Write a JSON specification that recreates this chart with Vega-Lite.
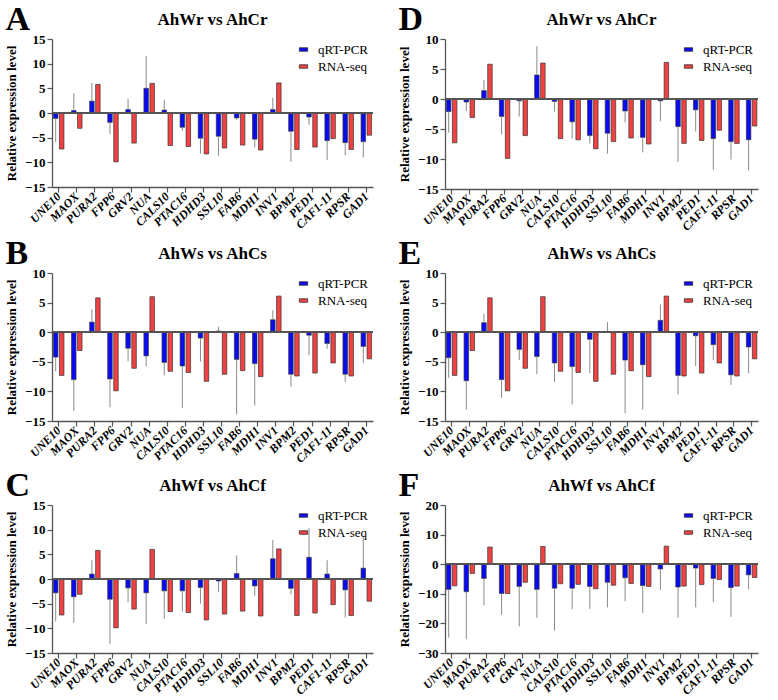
{
  "$schema": "https://vega.github.io/schema/vega-lite/v6.json",
  "padding": {"left": 5, "top": 3, "right": 2, "bottom": 0},
  "background": "white",
  "config": {
    "view": {"stroke": null},
    "font": "Liberation Serif",
    "title": {"font": "Liberation Serif", "fontSize": 17, "fontWeight": "bold", "color": "#000", "offset": 4},
    "axis": {"labelFont": "Liberation Serif", "labelFontWeight": "bold", "labelFontSize": 13, "labelColor": "#000", "titleFont": "Liberation Serif", "titleFontWeight": "bold", "titleFontSize": 13, "titleColor": "#000", "domainColor": "#555", "tickColor": "#555", "grid": false, "domainWidth": 1.3, "tickWidth": 1.2, "tickSize": 5, "labelOverlap": false},
    "legend": {"orient": "top-right", "title": null, "labelFont": "Liberation Serif", "labelFontSize": 13, "labelColor": "#000", "symbolType": "M-1,-0.42H1V0.42H-1Z", "symbolSize": 70, "symbolStrokeColor": "#333", "symbolStrokeWidth": 0.8, "rowPadding": 3, "offset": 4, "labelOffset": 8},
    "concat": {"spacing": 0}
  },
  "datasets": {
    "d": [
      {"p":"A","g":"UNE10","qRT-PCR":-1.1,"RNA-seq":-7.3,"err":-5.9},
      {"p":"A","g":"MAOX","qRT-PCR":0.5,"RNA-seq":-3.1,"err":4.0},
      {"p":"A","g":"PURA2","qRT-PCR":2.4,"RNA-seq":5.8,"err":6.1},
      {"p":"A","g":"FPP6","qRT-PCR":-1.9,"RNA-seq":-9.9,"err":-4.3},
      {"p":"A","g":"GRV2","qRT-PCR":0.7,"RNA-seq":-6.1,"err":2.9},
      {"p":"A","g":"NUA","qRT-PCR":5.0,"RNA-seq":6.0,"err":11.6},
      {"p":"A","g":"CALS10","qRT-PCR":0.6,"RNA-seq":-6.6,"err":2.7},
      {"p":"A","g":"PTAC16","qRT-PCR":-2.9,"RNA-seq":-6.8,"err":-3.6},
      {"p":"A","g":"HDHD3","qRT-PCR":-5.1,"RNA-seq":-8.3,"err":-8.2},
      {"p":"A","g":"SSL10","qRT-PCR":-4.7,"RNA-seq":-7.1,"err":-8.7},
      {"p":"A","g":"FAB6","qRT-PCR":-1.0,"RNA-seq":-6.5,"err":-1.4},
      {"p":"A","g":"MDH1","qRT-PCR":-5.3,"RNA-seq":-7.5,"err":-7.0},
      {"p":"A","g":"INV1","qRT-PCR":0.7,"RNA-seq":6.1,"err":3.1},
      {"p":"A","g":"BPM2","qRT-PCR":-3.7,"RNA-seq":-7.4,"err":-9.9},
      {"p":"A","g":"PED1","qRT-PCR":-0.8,"RNA-seq":-6.9,"err":-2.4},
      {"p":"A","g":"CAF1-11","qRT-PCR":-5.6,"RNA-seq":-5.2,"err":-9.5},
      {"p":"A","g":"RPSR","qRT-PCR":-6.0,"RNA-seq":-7.4,"err":-8.6},
      {"p":"A","g":"GAD1","qRT-PCR":-5.8,"RNA-seq":-4.5,"err":-9.0},

      {"p":"B","g":"UNE10","qRT-PCR":-4.2,"RNA-seq":-7.3,"err":-6.6},
      {"p":"B","g":"MAOX","qRT-PCR":-8.0,"RNA-seq":-3.1,"err":-13.3},
      {"p":"B","g":"PURA2","qRT-PCR":1.7,"RNA-seq":5.8,"err":3.9},
      {"p":"B","g":"FPP6","qRT-PCR":-7.9,"RNA-seq":-9.9,"err":-12.7},
      {"p":"B","g":"GRV2","qRT-PCR":-2.7,"RNA-seq":-6.1,"err":-4.9},
      {"p":"B","g":"NUA","qRT-PCR":-4.0,"RNA-seq":6.0,"err":-5.8},
      {"p":"B","g":"CALS10","qRT-PCR":-5.1,"RNA-seq":-6.6,"err":-7.3},
      {"p":"B","g":"PTAC16","qRT-PCR":-5.7,"RNA-seq":-6.8,"err":-12.8},
      {"p":"B","g":"HDHD3","qRT-PCR":-1.0,"RNA-seq":-8.3,"err":-5.0},
      {"p":"B","g":"SSL10","qRT-PCR":0.2,"RNA-seq":-7.1,"err":0.9},
      {"p":"B","g":"FAB6","qRT-PCR":-4.6,"RNA-seq":-6.5,"err":-13.9},
      {"p":"B","g":"MDH1","qRT-PCR":-5.3,"RNA-seq":-7.5,"err":-12.4},
      {"p":"B","g":"INV1","qRT-PCR":2.1,"RNA-seq":6.1,"err":3.7},
      {"p":"B","g":"BPM2","qRT-PCR":-7.1,"RNA-seq":-7.4,"err":-9.2},
      {"p":"B","g":"PED1","qRT-PCR":-0.5,"RNA-seq":-6.9,"err":-3.9},
      {"p":"B","g":"CAF1-11","qRT-PCR":-1.9,"RNA-seq":-5.2,"err":-2.8},
      {"p":"B","g":"RPSR","qRT-PCR":-7.1,"RNA-seq":-7.4,"err":-8.4},
      {"p":"B","g":"GAD1","qRT-PCR":-2.4,"RNA-seq":-4.5,"err":-5.2},

      {"p":"C","g":"UNE10","qRT-PCR":-2.8,"RNA-seq":-7.3,"err":-8.6},
      {"p":"C","g":"MAOX","qRT-PCR":-3.6,"RNA-seq":-3.1,"err":-8.9},
      {"p":"C","g":"PURA2","qRT-PCR":1.0,"RNA-seq":5.8,"err":3.8},
      {"p":"C","g":"FPP6","qRT-PCR":-4.1,"RNA-seq":-9.9,"err":-13.2},
      {"p":"C","g":"GRV2","qRT-PCR":-1.8,"RNA-seq":-6.1,"err":-4.7},
      {"p":"C","g":"NUA","qRT-PCR":-2.8,"RNA-seq":6.0,"err":-9.1},
      {"p":"C","g":"CALS10","qRT-PCR":-2.4,"RNA-seq":-6.6,"err":-8.1},
      {"p":"C","g":"PTAC16","qRT-PCR":-2.4,"RNA-seq":-6.8,"err":-6.6},
      {"p":"C","g":"HDHD3","qRT-PCR":-1.7,"RNA-seq":-8.3,"err":-5.0},
      {"p":"C","g":"SSL10","qRT-PCR":-0.4,"RNA-seq":-7.1,"err":-2.6},
      {"p":"C","g":"FAB6","qRT-PCR":1.1,"RNA-seq":-6.5,"err":4.8},
      {"p":"C","g":"MDH1","qRT-PCR":-1.4,"RNA-seq":-7.5,"err":-3.4},
      {"p":"C","g":"INV1","qRT-PCR":4.1,"RNA-seq":6.1,"err":7.9},
      {"p":"C","g":"BPM2","qRT-PCR":-1.9,"RNA-seq":-7.4,"err":-3.1},
      {"p":"C","g":"PED1","qRT-PCR":4.4,"RNA-seq":-6.9,"err":10.3},
      {"p":"C","g":"CAF1-11","qRT-PCR":1.0,"RNA-seq":-5.2,"err":3.8},
      {"p":"C","g":"RPSR","qRT-PCR":-2.2,"RNA-seq":-7.4,"err":-7.8},
      {"p":"C","g":"GAD1","qRT-PCR":2.2,"RNA-seq":-4.5,"err":8.5},

      {"p":"D","g":"UNE10","qRT-PCR":-2.1,"RNA-seq":-7.3,"err":-5.6},
      {"p":"D","g":"MAOX","qRT-PCR":-0.5,"RNA-seq":-3.1,"err":-2.0},
      {"p":"D","g":"PURA2","qRT-PCR":1.4,"RNA-seq":5.8,"err":3.2},
      {"p":"D","g":"FPP6","qRT-PCR":-2.9,"RNA-seq":-9.9,"err":-5.9},
      {"p":"D","g":"GRV2","qRT-PCR":-0.3,"RNA-seq":-6.1,"err":-2.9},
      {"p":"D","g":"NUA","qRT-PCR":4.0,"RNA-seq":6.0,"err":8.8},
      {"p":"D","g":"CALS10","qRT-PCR":-0.4,"RNA-seq":-6.6,"err":-2.1},
      {"p":"D","g":"PTAC16","qRT-PCR":-3.8,"RNA-seq":-6.8,"err":-6.6},
      {"p":"D","g":"HDHD3","qRT-PCR":-6.1,"RNA-seq":-8.3,"err":-7.4},
      {"p":"D","g":"SSL10","qRT-PCR":-5.7,"RNA-seq":-7.1,"err":-9.1},
      {"p":"D","g":"FAB6","qRT-PCR":-2.0,"RNA-seq":-6.5,"err":-3.9},
      {"p":"D","g":"MDH1","qRT-PCR":-6.4,"RNA-seq":-7.5,"err":-8.9},
      {"p":"D","g":"INV1","qRT-PCR":-0.3,"RNA-seq":6.1,"err":-3.7},
      {"p":"D","g":"BPM2","qRT-PCR":-4.6,"RNA-seq":-7.4,"err":-10.5},
      {"p":"D","g":"PED1","qRT-PCR":-1.8,"RNA-seq":-6.9,"err":-5.4},
      {"p":"D","g":"CAF1-11","qRT-PCR":-6.6,"RNA-seq":-5.2,"err":-11.8},
      {"p":"D","g":"RPSR","qRT-PCR":-7.1,"RNA-seq":-7.4,"err":-10.1},
      {"p":"D","g":"GAD1","qRT-PCR":-6.8,"RNA-seq":-4.5,"err":-11.9},

      {"p":"E","g":"UNE10","qRT-PCR":-4.3,"RNA-seq":-7.3,"err":-7.7},
      {"p":"E","g":"MAOX","qRT-PCR":-8.2,"RNA-seq":-3.1,"err":-13.1},
      {"p":"E","g":"PURA2","qRT-PCR":1.6,"RNA-seq":5.8,"err":3.1},
      {"p":"E","g":"FPP6","qRT-PCR":-8.0,"RNA-seq":-9.9,"err":-11.1},
      {"p":"E","g":"GRV2","qRT-PCR":-2.9,"RNA-seq":-6.1,"err":-4.7},
      {"p":"E","g":"NUA","qRT-PCR":-4.1,"RNA-seq":6.0,"err":-7.1},
      {"p":"E","g":"CALS10","qRT-PCR":-5.2,"RNA-seq":-6.6,"err":-8.4},
      {"p":"E","g":"PTAC16","qRT-PCR":-5.8,"RNA-seq":-6.8,"err":-12.2},
      {"p":"E","g":"HDHD3","qRT-PCR":-1.2,"RNA-seq":-8.3,"err":-6.9},
      {"p":"E","g":"SSL10","qRT-PCR":0.0,"RNA-seq":-7.1,"err":1.7},
      {"p":"E","g":"FAB6","qRT-PCR":-4.7,"RNA-seq":-6.5,"err":-13.7},
      {"p":"E","g":"MDH1","qRT-PCR":-5.5,"RNA-seq":-7.5,"err":-13.1},
      {"p":"E","g":"INV1","qRT-PCR":2.0,"RNA-seq":6.1,"err":4.7},
      {"p":"E","g":"BPM2","qRT-PCR":-7.3,"RNA-seq":-7.4,"err":-10.5},
      {"p":"E","g":"PED1","qRT-PCR":-0.6,"RNA-seq":-6.9,"err":-5.7},
      {"p":"E","g":"CAF1-11","qRT-PCR":-2.1,"RNA-seq":-5.2,"err":-4.7},
      {"p":"E","g":"RPSR","qRT-PCR":-7.2,"RNA-seq":-7.4,"err":-8.9},
      {"p":"E","g":"GAD1","qRT-PCR":-2.5,"RNA-seq":-4.5,"err":-6.9},

      {"p":"F","g":"UNE10","qRT-PCR":-8.5,"RNA-seq":-7.3,"err":-24.8},
      {"p":"F","g":"MAOX","qRT-PCR":-9.3,"RNA-seq":-3.1,"err":-25.4},
      {"p":"F","g":"PURA2","qRT-PCR":-4.8,"RNA-seq":5.8,"err":-13.9},
      {"p":"F","g":"FPP6","qRT-PCR":-9.9,"RNA-seq":-9.9,"err":-17.1},
      {"p":"F","g":"GRV2","qRT-PCR":-7.5,"RNA-seq":-6.1,"err":-21.0},
      {"p":"F","g":"NUA","qRT-PCR":-8.5,"RNA-seq":6.0,"err":-18.1},
      {"p":"F","g":"CALS10","qRT-PCR":-8.1,"RNA-seq":-6.6,"err":-22.4},
      {"p":"F","g":"PTAC16","qRT-PCR":-8.1,"RNA-seq":-6.8,"err":-15.2},
      {"p":"F","g":"HDHD3","qRT-PCR":-7.5,"RNA-seq":-8.3,"err":-15.1},
      {"p":"F","g":"SSL10","qRT-PCR":-6.1,"RNA-seq":-7.1,"err":-14.6},
      {"p":"F","g":"FAB6","qRT-PCR":-4.6,"RNA-seq":-6.5,"err":-12.5},
      {"p":"F","g":"MDH1","qRT-PCR":-7.2,"RNA-seq":-7.5,"err":-16.4},
      {"p":"F","g":"INV1","qRT-PCR":-1.6,"RNA-seq":6.1,"err":-8.7},
      {"p":"F","g":"BPM2","qRT-PCR":-7.7,"RNA-seq":-7.4,"err":-18.0},
      {"p":"F","g":"PED1","qRT-PCR":-1.3,"RNA-seq":-6.9,"err":-14.6},
      {"p":"F","g":"CAF1-11","qRT-PCR":-4.8,"RNA-seq":-5.2,"err":-12.8},
      {"p":"F","g":"RPSR","qRT-PCR":-7.9,"RNA-seq":-7.4,"err":-17.8},
      {"p":"F","g":"GAD1","qRT-PCR":-3.6,"RNA-seq":-4.5,"err":-8.5}
    ]
  },
  "resolve": {"scale": {"color": "independent"}, "legend": {"color": "independent"}},
  "spacing": 4,
  "vconcat": [
    {
      "resolve": {"scale": {"color": "independent"}, "legend": {"color": "independent"}},
      "spacing": 24,
      "hconcat": [
        {
          "title": {"text": "A", "anchor": "start", "fontSize": 34, "offset": -26},
          "resolve": {"scale": {"color": "independent"}, "legend": {"color": "independent"}},
          "vconcat": [{
            "title": "AhWr vs AhCr",
            "width": 321, "height": 148,
            "data": {"name": "d"},
            "transform": [{"filter": "datum.p == 'A'"}, {"fold": ["qRT-PCR", "RNA-seq"], "as": ["method", "value"]}],
            "layer": [
              {"mark": {"type": "bar", "stroke": "#333", "strokeWidth": 0.7},
               "encoding": {
                 "x": {"field": "g", "type": "nominal", "title": null, "sort": ["UNE10","MAOX","PURA2","FPP6","GRV2","NUA","CALS10","PTAC16","HDHD3","SSL10","FAB6","MDH1","INV1","BPM2","PED1","CAF1-11","RPSR","GAD1"], "scale": {"paddingInner": 0.42, "paddingOuter": 0.08}, "axis": {"labelAngle": -45, "labelAlign": "right", "labelBaseline": "middle", "labelFont": "Liberation Serif", "labelFontStyle": "italic", "labelFontWeight": "bold", "labelFontSize": 12, "labelPadding": 2, "labelOverlap": false}},
                 "xOffset": {"field": "method", "type": "nominal", "sort": ["qRT-PCR", "RNA-seq"], "scale": {"paddingInner": 0.25}},
                 "y": {"field": "value", "type": "quantitative", "title": "Relative expression level", "scale": {"domain": [-15, 15], "nice": false, "zero": false}, "axis": {"values": [-15,-10,-5,0,5,10,15], "labelOverlap": false, "labelFont": "Liberation Serif", "labelFontWeight": "bold", "labelFontSize": 13, "titleFont": "Liberation Serif", "titleFontWeight": "bold", "titleFontSize": 13, "titlePadding": 6, "labelPadding": 2}},
                 "color": {"field": "method", "type": "nominal", "scale": {"domain": ["qRT-PCR", "RNA-seq"], "range": ["#0a0af5", "#f24141"]}}
               }},
              {"transform": [{"filter": "datum.method == 'qRT-PCR'"}],
               "mark": {"type": "rule", "color": "#8a8a8a", "strokeWidth": 1},
               "encoding": {
                 "x": {"field": "g", "type": "nominal", "title": null, "sort": ["UNE10","MAOX","PURA2","FPP6","GRV2","NUA","CALS10","PTAC16","HDHD3","SSL10","FAB6","MDH1","INV1","BPM2","PED1","CAF1-11","RPSR","GAD1"], "scale": {"paddingInner": 0.42, "paddingOuter": 0.08}, "axis": {"labelAngle": -45, "labelAlign": "right", "labelBaseline": "middle", "labelFont": "Liberation Serif", "labelFontStyle": "italic", "labelFontWeight": "bold", "labelFontSize": 12, "labelPadding": 2, "labelOverlap": false}},
                 "xOffset": {"field": "method", "type": "nominal", "sort": ["qRT-PCR", "RNA-seq"], "scale": {"paddingInner": 0.25}},
                 "y": {"field": "value", "type": "quantitative", "title": "Relative expression level", "scale": {"domain": [-15, 15], "nice": false, "zero": false}, "axis": {"values": [-15,-10,-5,0,5,10,15], "labelOverlap": false, "labelFont": "Liberation Serif", "labelFontWeight": "bold", "labelFontSize": 13, "titleFont": "Liberation Serif", "titleFontWeight": "bold", "titleFontSize": 13, "titlePadding": 6, "labelPadding": 2}},
                 "y2": {"field": "err"}
               }},
              {"mark": {"type": "rule", "color": "#555", "strokeWidth": 1.2}, "encoding": {"y": {"datum": 0, "type": "quantitative", "title": "Relative expression level", "scale": {"domain": [-15, 15], "nice": false, "zero": false}, "axis": {"values": [-15,-10,-5,0,5,10,15], "labelOverlap": false, "labelFont": "Liberation Serif", "labelFontWeight": "bold", "labelFontSize": 13, "titleFont": "Liberation Serif", "titleFontWeight": "bold", "titleFontSize": 13, "titlePadding": 6, "labelPadding": 2}}}}
            ]
          }]
        },
        {
          "title": {"text": "D", "anchor": "start", "fontSize": 34, "offset": -26},
          "resolve": {"scale": {"color": "independent"}, "legend": {"color": "independent"}},
          "vconcat": [{
            "title": "AhWr vs AhCr",
            "width": 313, "height": 150,
            "data": {"name": "d"},
            "transform": [{"filter": "datum.p == 'D'"}, {"fold": ["qRT-PCR", "RNA-seq"], "as": ["method", "value"]}],
            "layer": [
              {"mark": {"type": "bar", "stroke": "#333", "strokeWidth": 0.7},
               "encoding": {
                 "x": {"field": "g", "type": "nominal", "title": null, "sort": ["UNE10","MAOX","PURA2","FPP6","GRV2","NUA","CALS10","PTAC16","HDHD3","SSL10","FAB6","MDH1","INV1","BPM2","PED1","CAF1-11","RPSR","GAD1"], "scale": {"paddingInner": 0.42, "paddingOuter": 0.08}, "axis": {"labelAngle": -45, "labelAlign": "right", "labelBaseline": "middle", "labelFont": "Liberation Serif", "labelFontStyle": "italic", "labelFontWeight": "bold", "labelFontSize": 12, "labelPadding": 2, "labelOverlap": false}},
                 "xOffset": {"field": "method", "type": "nominal", "sort": ["qRT-PCR", "RNA-seq"], "scale": {"paddingInner": 0.25}},
                 "y": {"field": "value", "type": "quantitative", "title": "Relative expression level", "scale": {"domain": [-15, 10], "nice": false, "zero": false}, "axis": {"values": [-15,-10,-5,0,5,10], "labelOverlap": false, "labelFont": "Liberation Serif", "labelFontWeight": "bold", "labelFontSize": 13, "titleFont": "Liberation Serif", "titleFontWeight": "bold", "titleFontSize": 13, "titlePadding": 6, "labelPadding": 2}},
                 "color": {"field": "method", "type": "nominal", "scale": {"domain": ["qRT-PCR", "RNA-seq"], "range": ["#0a0af5", "#f24141"]}}
               }},
              {"transform": [{"filter": "datum.method == 'qRT-PCR'"}],
               "mark": {"type": "rule", "color": "#8a8a8a", "strokeWidth": 1},
               "encoding": {
                 "x": {"field": "g", "type": "nominal", "title": null, "sort": ["UNE10","MAOX","PURA2","FPP6","GRV2","NUA","CALS10","PTAC16","HDHD3","SSL10","FAB6","MDH1","INV1","BPM2","PED1","CAF1-11","RPSR","GAD1"], "scale": {"paddingInner": 0.42, "paddingOuter": 0.08}, "axis": {"labelAngle": -45, "labelAlign": "right", "labelBaseline": "middle", "labelFont": "Liberation Serif", "labelFontStyle": "italic", "labelFontWeight": "bold", "labelFontSize": 12, "labelPadding": 2, "labelOverlap": false}},
                 "xOffset": {"field": "method", "type": "nominal", "sort": ["qRT-PCR", "RNA-seq"], "scale": {"paddingInner": 0.25}},
                 "y": {"field": "value", "type": "quantitative", "title": "Relative expression level", "scale": {"domain": [-15, 10], "nice": false, "zero": false}, "axis": {"values": [-15,-10,-5,0,5,10], "labelOverlap": false, "labelFont": "Liberation Serif", "labelFontWeight": "bold", "labelFontSize": 13, "titleFont": "Liberation Serif", "titleFontWeight": "bold", "titleFontSize": 13, "titlePadding": 6, "labelPadding": 2}},
                 "y2": {"field": "err"}
               }},
              {"mark": {"type": "rule", "color": "#555", "strokeWidth": 1.2}, "encoding": {"y": {"datum": 0, "type": "quantitative", "title": "Relative expression level", "scale": {"domain": [-15, 10], "nice": false, "zero": false}, "axis": {"values": [-15,-10,-5,0,5,10], "labelOverlap": false, "labelFont": "Liberation Serif", "labelFontWeight": "bold", "labelFontSize": 13, "titleFont": "Liberation Serif", "titleFontWeight": "bold", "titleFontSize": 13, "titlePadding": 6, "labelPadding": 2}}}}
            ]
          }]
        }
      ]
    },
    {
      "resolve": {"scale": {"color": "independent"}, "legend": {"color": "independent"}},
      "spacing": 24,
      "hconcat": [
        {
          "title": {"text": "B", "anchor": "start", "fontSize": 34, "offset": -26},
          "resolve": {"scale": {"color": "independent"}, "legend": {"color": "independent"}},
          "vconcat": [{
            "title": "AhWs vs AhCs",
            "width": 321, "height": 148,
            "data": {"name": "d"},
            "transform": [{"filter": "datum.p == 'B'"}, {"fold": ["qRT-PCR", "RNA-seq"], "as": ["method", "value"]}],
            "layer": [
              {"mark": {"type": "bar", "stroke": "#333", "strokeWidth": 0.7},
               "encoding": {
                 "x": {"field": "g", "type": "nominal", "title": null, "sort": ["UNE10","MAOX","PURA2","FPP6","GRV2","NUA","CALS10","PTAC16","HDHD3","SSL10","FAB6","MDH1","INV1","BPM2","PED1","CAF1-11","RPSR","GAD1"], "scale": {"paddingInner": 0.42, "paddingOuter": 0.08}, "axis": {"labelAngle": -45, "labelAlign": "right", "labelBaseline": "middle", "labelFont": "Liberation Serif", "labelFontStyle": "italic", "labelFontWeight": "bold", "labelFontSize": 12, "labelPadding": 2, "labelOverlap": false}},
                 "xOffset": {"field": "method", "type": "nominal", "sort": ["qRT-PCR", "RNA-seq"], "scale": {"paddingInner": 0.25}},
                 "y": {"field": "value", "type": "quantitative", "title": "Relative expression level", "scale": {"domain": [-15, 10], "nice": false, "zero": false}, "axis": {"values": [-15,-10,-5,0,5,10], "labelOverlap": false, "labelFont": "Liberation Serif", "labelFontWeight": "bold", "labelFontSize": 13, "titleFont": "Liberation Serif", "titleFontWeight": "bold", "titleFontSize": 13, "titlePadding": 6, "labelPadding": 2}},
                 "color": {"field": "method", "type": "nominal", "scale": {"domain": ["qRT-PCR", "RNA-seq"], "range": ["#0a0af5", "#f24141"]}}
               }},
              {"transform": [{"filter": "datum.method == 'qRT-PCR'"}],
               "mark": {"type": "rule", "color": "#8a8a8a", "strokeWidth": 1},
               "encoding": {
                 "x": {"field": "g", "type": "nominal", "title": null, "sort": ["UNE10","MAOX","PURA2","FPP6","GRV2","NUA","CALS10","PTAC16","HDHD3","SSL10","FAB6","MDH1","INV1","BPM2","PED1","CAF1-11","RPSR","GAD1"], "scale": {"paddingInner": 0.42, "paddingOuter": 0.08}, "axis": {"labelAngle": -45, "labelAlign": "right", "labelBaseline": "middle", "labelFont": "Liberation Serif", "labelFontStyle": "italic", "labelFontWeight": "bold", "labelFontSize": 12, "labelPadding": 2, "labelOverlap": false}},
                 "xOffset": {"field": "method", "type": "nominal", "sort": ["qRT-PCR", "RNA-seq"], "scale": {"paddingInner": 0.25}},
                 "y": {"field": "value", "type": "quantitative", "title": "Relative expression level", "scale": {"domain": [-15, 10], "nice": false, "zero": false}, "axis": {"values": [-15,-10,-5,0,5,10], "labelOverlap": false, "labelFont": "Liberation Serif", "labelFontWeight": "bold", "labelFontSize": 13, "titleFont": "Liberation Serif", "titleFontWeight": "bold", "titleFontSize": 13, "titlePadding": 6, "labelPadding": 2}},
                 "y2": {"field": "err"}
               }},
              {"mark": {"type": "rule", "color": "#555", "strokeWidth": 1.2}, "encoding": {"y": {"datum": 0, "type": "quantitative", "title": "Relative expression level", "scale": {"domain": [-15, 10], "nice": false, "zero": false}, "axis": {"values": [-15,-10,-5,0,5,10], "labelOverlap": false, "labelFont": "Liberation Serif", "labelFontWeight": "bold", "labelFontSize": 13, "titleFont": "Liberation Serif", "titleFontWeight": "bold", "titleFontSize": 13, "titlePadding": 6, "labelPadding": 2}}}}
            ]
          }]
        },
        {
          "title": {"text": "E", "anchor": "start", "fontSize": 34, "offset": -26},
          "resolve": {"scale": {"color": "independent"}, "legend": {"color": "independent"}},
          "vconcat": [{
            "title": "AhWs vs AhCs",
            "width": 313, "height": 148,
            "data": {"name": "d"},
            "transform": [{"filter": "datum.p == 'E'"}, {"fold": ["qRT-PCR", "RNA-seq"], "as": ["method", "value"]}],
            "layer": [
              {"mark": {"type": "bar", "stroke": "#333", "strokeWidth": 0.7},
               "encoding": {
                 "x": {"field": "g", "type": "nominal", "title": null, "sort": ["UNE10","MAOX","PURA2","FPP6","GRV2","NUA","CALS10","PTAC16","HDHD3","SSL10","FAB6","MDH1","INV1","BPM2","PED1","CAF1-11","RPSR","GAD1"], "scale": {"paddingInner": 0.42, "paddingOuter": 0.08}, "axis": {"labelAngle": -45, "labelAlign": "right", "labelBaseline": "middle", "labelFont": "Liberation Serif", "labelFontStyle": "italic", "labelFontWeight": "bold", "labelFontSize": 12, "labelPadding": 2, "labelOverlap": false}},
                 "xOffset": {"field": "method", "type": "nominal", "sort": ["qRT-PCR", "RNA-seq"], "scale": {"paddingInner": 0.25}},
                 "y": {"field": "value", "type": "quantitative", "title": "Relative expression level", "scale": {"domain": [-15, 10], "nice": false, "zero": false}, "axis": {"values": [-15,-10,-5,0,5,10], "labelOverlap": false, "labelFont": "Liberation Serif", "labelFontWeight": "bold", "labelFontSize": 13, "titleFont": "Liberation Serif", "titleFontWeight": "bold", "titleFontSize": 13, "titlePadding": 6, "labelPadding": 2}},
                 "color": {"field": "method", "type": "nominal", "scale": {"domain": ["qRT-PCR", "RNA-seq"], "range": ["#0a0af5", "#f24141"]}}
               }},
              {"transform": [{"filter": "datum.method == 'qRT-PCR'"}],
               "mark": {"type": "rule", "color": "#8a8a8a", "strokeWidth": 1},
               "encoding": {
                 "x": {"field": "g", "type": "nominal", "title": null, "sort": ["UNE10","MAOX","PURA2","FPP6","GRV2","NUA","CALS10","PTAC16","HDHD3","SSL10","FAB6","MDH1","INV1","BPM2","PED1","CAF1-11","RPSR","GAD1"], "scale": {"paddingInner": 0.42, "paddingOuter": 0.08}, "axis": {"labelAngle": -45, "labelAlign": "right", "labelBaseline": "middle", "labelFont": "Liberation Serif", "labelFontStyle": "italic", "labelFontWeight": "bold", "labelFontSize": 12, "labelPadding": 2, "labelOverlap": false}},
                 "xOffset": {"field": "method", "type": "nominal", "sort": ["qRT-PCR", "RNA-seq"], "scale": {"paddingInner": 0.25}},
                 "y": {"field": "value", "type": "quantitative", "title": "Relative expression level", "scale": {"domain": [-15, 10], "nice": false, "zero": false}, "axis": {"values": [-15,-10,-5,0,5,10], "labelOverlap": false, "labelFont": "Liberation Serif", "labelFontWeight": "bold", "labelFontSize": 13, "titleFont": "Liberation Serif", "titleFontWeight": "bold", "titleFontSize": 13, "titlePadding": 6, "labelPadding": 2}},
                 "y2": {"field": "err"}
               }},
              {"mark": {"type": "rule", "color": "#555", "strokeWidth": 1.2}, "encoding": {"y": {"datum": 0, "type": "quantitative", "title": "Relative expression level", "scale": {"domain": [-15, 10], "nice": false, "zero": false}, "axis": {"values": [-15,-10,-5,0,5,10], "labelOverlap": false, "labelFont": "Liberation Serif", "labelFontWeight": "bold", "labelFontSize": 13, "titleFont": "Liberation Serif", "titleFontWeight": "bold", "titleFontSize": 13, "titlePadding": 6, "labelPadding": 2}}}}
            ]
          }]
        }
      ]
    },
    {
      "resolve": {"scale": {"color": "independent"}, "legend": {"color": "independent"}},
      "spacing": 24,
      "hconcat": [
        {
          "title": {"text": "C", "anchor": "start", "fontSize": 34, "offset": -26},
          "resolve": {"scale": {"color": "independent"}, "legend": {"color": "independent"}},
          "vconcat": [{
            "title": "AhWf vs AhCf",
            "width": 321, "height": 148,
            "data": {"name": "d"},
            "transform": [{"filter": "datum.p == 'C'"}, {"fold": ["qRT-PCR", "RNA-seq"], "as": ["method", "value"]}],
            "layer": [
              {"mark": {"type": "bar", "stroke": "#333", "strokeWidth": 0.7},
               "encoding": {
                 "x": {"field": "g", "type": "nominal", "title": null, "sort": ["UNE10","MAOX","PURA2","FPP6","GRV2","NUA","CALS10","PTAC16","HDHD3","SSL10","FAB6","MDH1","INV1","BPM2","PED1","CAF1-11","RPSR","GAD1"], "scale": {"paddingInner": 0.42, "paddingOuter": 0.08}, "axis": {"labelAngle": -45, "labelAlign": "right", "labelBaseline": "middle", "labelFont": "Liberation Serif", "labelFontStyle": "italic", "labelFontWeight": "bold", "labelFontSize": 12, "labelPadding": 2, "labelOverlap": false}},
                 "xOffset": {"field": "method", "type": "nominal", "sort": ["qRT-PCR", "RNA-seq"], "scale": {"paddingInner": 0.25}},
                 "y": {"field": "value", "type": "quantitative", "title": "Relative expression level", "scale": {"domain": [-15, 15], "nice": false, "zero": false}, "axis": {"values": [-15,-10,-5,0,5,10,15], "labelOverlap": false, "labelFont": "Liberation Serif", "labelFontWeight": "bold", "labelFontSize": 13, "titleFont": "Liberation Serif", "titleFontWeight": "bold", "titleFontSize": 13, "titlePadding": 6, "labelPadding": 2}},
                 "color": {"field": "method", "type": "nominal", "scale": {"domain": ["qRT-PCR", "RNA-seq"], "range": ["#0a0af5", "#f24141"]}}
               }},
              {"transform": [{"filter": "datum.method == 'qRT-PCR'"}],
               "mark": {"type": "rule", "color": "#8a8a8a", "strokeWidth": 1},
               "encoding": {
                 "x": {"field": "g", "type": "nominal", "title": null, "sort": ["UNE10","MAOX","PURA2","FPP6","GRV2","NUA","CALS10","PTAC16","HDHD3","SSL10","FAB6","MDH1","INV1","BPM2","PED1","CAF1-11","RPSR","GAD1"], "scale": {"paddingInner": 0.42, "paddingOuter": 0.08}, "axis": {"labelAngle": -45, "labelAlign": "right", "labelBaseline": "middle", "labelFont": "Liberation Serif", "labelFontStyle": "italic", "labelFontWeight": "bold", "labelFontSize": 12, "labelPadding": 2, "labelOverlap": false}},
                 "xOffset": {"field": "method", "type": "nominal", "sort": ["qRT-PCR", "RNA-seq"], "scale": {"paddingInner": 0.25}},
                 "y": {"field": "value", "type": "quantitative", "title": "Relative expression level", "scale": {"domain": [-15, 15], "nice": false, "zero": false}, "axis": {"values": [-15,-10,-5,0,5,10,15], "labelOverlap": false, "labelFont": "Liberation Serif", "labelFontWeight": "bold", "labelFontSize": 13, "titleFont": "Liberation Serif", "titleFontWeight": "bold", "titleFontSize": 13, "titlePadding": 6, "labelPadding": 2}},
                 "y2": {"field": "err"}
               }},
              {"mark": {"type": "rule", "color": "#555", "strokeWidth": 1.2}, "encoding": {"y": {"datum": 0, "type": "quantitative", "title": "Relative expression level", "scale": {"domain": [-15, 15], "nice": false, "zero": false}, "axis": {"values": [-15,-10,-5,0,5,10,15], "labelOverlap": false, "labelFont": "Liberation Serif", "labelFontWeight": "bold", "labelFontSize": 13, "titleFont": "Liberation Serif", "titleFontWeight": "bold", "titleFontSize": 13, "titlePadding": 6, "labelPadding": 2}}}}
            ]
          }]
        },
        {
          "title": {"text": "F", "anchor": "start", "fontSize": 34, "offset": -26},
          "resolve": {"scale": {"color": "independent"}, "legend": {"color": "independent"}},
          "vconcat": [{
            "title": "AhWf vs AhCf",
            "width": 313, "height": 148,
            "data": {"name": "d"},
            "transform": [{"filter": "datum.p == 'F'"}, {"fold": ["qRT-PCR", "RNA-seq"], "as": ["method", "value"]}],
            "layer": [
              {"mark": {"type": "bar", "stroke": "#333", "strokeWidth": 0.7},
               "encoding": {
                 "x": {"field": "g", "type": "nominal", "title": null, "sort": ["UNE10","MAOX","PURA2","FPP6","GRV2","NUA","CALS10","PTAC16","HDHD3","SSL10","FAB6","MDH1","INV1","BPM2","PED1","CAF1-11","RPSR","GAD1"], "scale": {"paddingInner": 0.42, "paddingOuter": 0.08}, "axis": {"labelAngle": -45, "labelAlign": "right", "labelBaseline": "middle", "labelFont": "Liberation Serif", "labelFontStyle": "italic", "labelFontWeight": "bold", "labelFontSize": 12, "labelPadding": 2, "labelOverlap": false}},
                 "xOffset": {"field": "method", "type": "nominal", "sort": ["qRT-PCR", "RNA-seq"], "scale": {"paddingInner": 0.25}},
                 "y": {"field": "value", "type": "quantitative", "title": "Relative expression level", "scale": {"domain": [-30, 20], "nice": false, "zero": false}, "axis": {"values": [-30,-20,-10,0,10,20], "labelOverlap": false, "labelFont": "Liberation Serif", "labelFontWeight": "bold", "labelFontSize": 13, "titleFont": "Liberation Serif", "titleFontWeight": "bold", "titleFontSize": 13, "titlePadding": 6, "labelPadding": 2}},
                 "color": {"field": "method", "type": "nominal", "scale": {"domain": ["qRT-PCR", "RNA-seq"], "range": ["#0a0af5", "#f24141"]}}
               }},
              {"transform": [{"filter": "datum.method == 'qRT-PCR'"}],
               "mark": {"type": "rule", "color": "#8a8a8a", "strokeWidth": 1},
               "encoding": {
                 "x": {"field": "g", "type": "nominal", "title": null, "sort": ["UNE10","MAOX","PURA2","FPP6","GRV2","NUA","CALS10","PTAC16","HDHD3","SSL10","FAB6","MDH1","INV1","BPM2","PED1","CAF1-11","RPSR","GAD1"], "scale": {"paddingInner": 0.42, "paddingOuter": 0.08}, "axis": {"labelAngle": -45, "labelAlign": "right", "labelBaseline": "middle", "labelFont": "Liberation Serif", "labelFontStyle": "italic", "labelFontWeight": "bold", "labelFontSize": 12, "labelPadding": 2, "labelOverlap": false}},
                 "xOffset": {"field": "method", "type": "nominal", "sort": ["qRT-PCR", "RNA-seq"], "scale": {"paddingInner": 0.25}},
                 "y": {"field": "value", "type": "quantitative", "title": "Relative expression level", "scale": {"domain": [-30, 20], "nice": false, "zero": false}, "axis": {"values": [-30,-20,-10,0,10,20], "labelOverlap": false, "labelFont": "Liberation Serif", "labelFontWeight": "bold", "labelFontSize": 13, "titleFont": "Liberation Serif", "titleFontWeight": "bold", "titleFontSize": 13, "titlePadding": 6, "labelPadding": 2}},
                 "y2": {"field": "err"}
               }},
              {"mark": {"type": "rule", "color": "#555", "strokeWidth": 1.2}, "encoding": {"y": {"datum": 0, "type": "quantitative", "title": "Relative expression level", "scale": {"domain": [-30, 20], "nice": false, "zero": false}, "axis": {"values": [-30,-20,-10,0,10,20], "labelOverlap": false, "labelFont": "Liberation Serif", "labelFontWeight": "bold", "labelFontSize": 13, "titleFont": "Liberation Serif", "titleFontWeight": "bold", "titleFontSize": 13, "titlePadding": 6, "labelPadding": 2}}}}
            ]
          }]
        }
      ]
    }
  ]
}
